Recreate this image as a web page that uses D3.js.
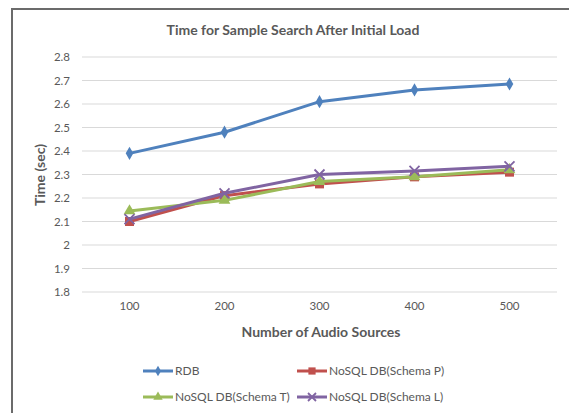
<!DOCTYPE html>
<html>
<head>
<meta charset="utf-8">
<script src="https://cdn.jsdelivr.net/npm/d3@7"></script>
<style>
  body { margin: 0; background: #fff; }
  svg { display: block; }
  text { font-family: Lato, "Open Sans", sans-serif; fill: #595959; }
</style>
</head>
<body>
<svg id="chart" width="569" height="413"></svg>
<script>
// Audio source counts (x categories)
const categories = [100, 200, 300, 400, 500];
// Search times in seconds
const rdb     = [2.39, 2.48, 2.61, 2.66, 2.685];
const schemaP = [2.10, 2.21, 2.26, 2.29, 2.31];
const schemaT = [2.145, 2.19, 2.27, 2.29, 2.32];
const schemaL = [2.11, 2.22, 2.30, 2.315, 2.335];
const yTicks = [1.8, 1.9, 2, 2.1, 2.2, 2.3, 2.4, 2.5, 2.6, 2.7, 2.8];
const seriesNames = ["RDB", "NoSQL DB(Schema P)", "NoSQL DB(Schema T)", "NoSQL DB(Schema L)"];

const series = [
  { name: seriesNames[0], values: rdb,     color: "#4F81BD", marker: "diamond" },
  { name: seriesNames[1], values: schemaP, color: "#C0504D", marker: "square" },
  { name: seriesNames[2], values: schemaT, color: "#9BBB59", marker: "triangle" },
  { name: seriesNames[3], values: schemaL, color: "#8064A2", marker: "cross" }
];

const svg = d3.select("#chart");

// outer frame
svg.append("rect").attr("x", 12).attr("y", 9).attr("width", 600).attr("height", 450)
  .attr("fill", "none").attr("stroke", "#6b6b6b").attr("stroke-width", 2);

const plot = { left: 82, right: 557, top: 57, bottom: 292 };

const x = d3.scaleBand().domain(categories).range([plot.left, plot.right]);
const y = d3.scaleLinear().domain([1.8, 2.8]).range([plot.bottom, plot.top]);

// gridlines
svg.append("g").selectAll("line").data(yTicks).join("line")
  .attr("x1", plot.left).attr("x2", plot.right)
  .attr("y1", d => y(d)).attr("y2", d => y(d))
  .attr("stroke", "#d9d9d9").attr("stroke-width", 1);

// y axis labels
const yAxis = d3.axisLeft(y).tickValues(yTicks).tickSize(0).tickPadding(12)
  .tickFormat(d => d3.format("")(+d.toFixed(1)));
const gy = svg.append("g").attr("transform", `translate(${plot.left},0)`).call(yAxis);
gy.select(".domain").remove();
gy.selectAll("text").attr("font-size", 11.5).style("font-family", "Lato, sans-serif").attr("fill", "#595959");

// x axis labels
const xAxis = d3.axisBottom(x).tickSize(0).tickPadding(10);
const gx = svg.append("g").attr("transform", `translate(0,${plot.bottom})`).call(xAxis);
gx.select(".domain").remove();
gx.selectAll("text").attr("font-size", 11.5).style("font-family", "Lato, sans-serif").attr("fill", "#595959");

// title and axis titles
svg.append("text").attr("x", 293).attr("y", 35).attr("text-anchor", "middle")
  .attr("font-size", 14).attr("font-weight", "bold").text("Time for Sample Search After Initial Load");
svg.append("text").attr("x", 321).attr("y", 337).attr("text-anchor", "middle")
  .attr("font-size", 14).attr("font-weight", "bold").text("Number of Audio Sources");
svg.append("text").attr("transform", "translate(45,175) rotate(-90)").attr("text-anchor", "middle")
  .attr("font-size", 14).attr("font-weight", "bold").text("Time (sec)");

function drawMarker(g, type, cx, cy, color, scale = 1) {
  if (type === "diamond") {
    g.append("path").attr("d", d3.symbol(d3.symbolDiamond, 50 * scale * scale)()).attr("transform", `translate(${cx},${cy})`)
      .attr("fill", color);
  } else if (type === "square") {
    const h = 4.5 * scale;
    g.append("rect").attr("x", cx - h).attr("y", cy - h).attr("width", 2 * h).attr("height", 2 * h).attr("fill", color);
  } else if (type === "triangle") {
    g.append("path").attr("d", d3.symbol(d3.symbolTriangle, 60 * scale * scale)()).attr("transform", `translate(${cx},${cy})`)
      .attr("fill", color);
  } else {
    const h = 5 * scale;
    g.append("path").attr("d", `M${cx - h},${cy - h}L${cx + h},${cy + h}M${cx - h},${cy + h}L${cx + h},${cy - h}`)
      .attr("stroke", color).attr("stroke-width", 1.8).attr("fill", "none");
  }
}

const line = d3.line().x((d, i) => x(categories[i]) + x.bandwidth() / 2).y(d => y(d));

series.forEach(s => {
  const g = svg.append("g");
  g.append("path").datum(s.values).attr("d", line).attr("fill", "none")
    .attr("stroke", s.color).attr("stroke-width", 3).attr("stroke-linejoin", "round");
  s.values.forEach((v, i) => drawMarker(g, s.marker, x(categories[i]) + x.bandwidth() / 2, y(v), s.color));
});

// legend
const legendPos = [[143, 371], [297, 371], [143, 397], [297, 397]];
series.forEach((s, i) => {
  const [lx, ly] = legendPos[i];
  const g = svg.append("g");
  g.append("line").attr("x1", lx).attr("x2", lx + 30).attr("y1", ly).attr("y2", ly)
    .attr("stroke", s.color).attr("stroke-width", 3);
  drawMarker(g, s.marker, lx + 15, ly, s.color, 0.8);
  g.append("text").attr("x", lx + 32).attr("y", ly + 4).attr("font-size", 12).text(s.name);
});
</script>
</body>
</html>
